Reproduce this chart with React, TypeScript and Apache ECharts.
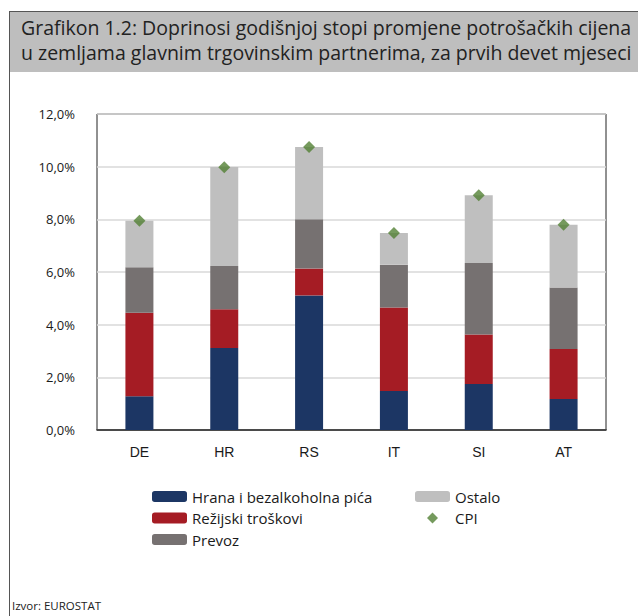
import React, { useEffect, useRef } from "react";
import * as echarts from "echarts";

const categories = ["DE", "HR", "RS", "IT", "SI", "AT"];
const food = [1.28, 3.11, 5.11, 1.48, 1.75, 1.18];
const utilities = [3.17, 1.48, 1.02, 3.17, 1.88, 1.90];
const transport = [1.73, 1.64, 1.87, 1.63, 2.71, 2.33];
const other = [1.77, 3.76, 2.75, 1.20, 2.57, 2.38];
const cpi = [7.95, 9.98, 10.75, 7.48, 8.91, 7.79];
const yTicks = [0, 2, 4, 6, 8, 10, 12];

const titleLines = [
  "Grafikon 1.2: Doprinosi godišnjoj stopi promjene potrošačkih cijena",
  "u zemljama glavnim trgovinskim partnerima, za prvih devet mjeseci",
];
const sourceText = "Izvor: EUROSTAT";

const FONT = "'Open Sans', 'Noto Sans', sans-serif";

export default function App() {
  const ref = useRef<HTMLDivElement>(null);
  useEffect(() => {
    document.body.style.margin = "0";
    const chart = echarts.init(ref.current!, null, { renderer: "svg" });
    const txt = "#1a1a1a";
    chart.setOption({
      animation: false,
      backgroundColor: "#ffffff",
      textStyle: { fontFamily: FONT },
      grid: {
        left: 97,
        top: 114,
        right: 32,
        bottom: 186,
        show: true,
        borderColor: "#222",
        borderWidth: 1,
        containLabel: false,
      },
      xAxis: {
        type: "category",
        data: categories,
        axisTick: { show: false },
        axisLine: { lineStyle: { color: "#222", width: 1.5 } },
        axisLabel: { color: txt, fontSize: 14, margin: 15, fontFamily: "'Liberation Sans', Arial, sans-serif" },
      },
      yAxis: {
        type: "value",
        min: yTicks[0],
        max: yTicks[yTicks.length - 1],
        interval: 2,
        axisLine: { show: false },
        axisTick: { show: false },
        splitLine: { lineStyle: { color: "#d9d9d9", width: 1.5 } },
        axisLabel: {
          color: txt,
          fontSize: 13,
          margin: 22,
          formatter: (v: number) => v.toFixed(1).replace(".", ",") + "%",
        },
      },
      legend: [
        {
          orient: "vertical",
          left: 152,
          top: 488,
          padding: 0,
          itemWidth: 35,
          itemHeight: 11,
          itemGap: 4.5,
          textStyle: { color: txt, fontSize: 15, lineHeight: 17, fontFamily: FONT },
          data: ["Hrana i bezalkoholna pića", "Režijski troškovi", "Prevoz"],
        },
        {
          orient: "vertical",
          left: 415,
          top: 488,
          padding: 0,
          itemWidth: 35,
          itemHeight: 11,
          itemGap: 4.5,
          symbolKeepAspect: true,
          textStyle: { color: txt, fontSize: 15, lineHeight: 17, fontFamily: FONT },
          data: ["Ostalo", { name: "CPI", icon: "path://M0,-1L1,0L0,1L-1,0Z" }],
        },
      ],
      series: [
        { name: "Hrana i bezalkoholna pića", type: "bar", stack: "a", barWidth: 28, data: food, itemStyle: { color: "#1c3664" } },
        { name: "Režijski troškovi", type: "bar", stack: "a", barWidth: 28, data: utilities, itemStyle: { color: "#a51c24" } },
        { name: "Prevoz", type: "bar", stack: "a", barWidth: 28, data: transport, itemStyle: { color: "#767171" } },
        { name: "Ostalo", type: "bar", stack: "a", barWidth: 28, data: other, itemStyle: { color: "#bfbfbf" } },
        {
          name: "CPI",
          type: "scatter",
          symbol: "diamond",
          symbolSize: 12,
          data: cpi,
          itemStyle: { color: "#538135" },
          z: 5,
        },
      ],
      graphic: [
        { type: "rect", shape: { x: 9, y: 11, width: 640, height: 61 }, style: { fill: "#bebebe" }, z: -1 },
        { type: "line", shape: { x1: 9, y1: 11.5, x2: 638, y2: 11.5 }, style: { stroke: "#555", lineWidth: 1 } },
        { type: "line", shape: { x1: 9.5, y1: 11, x2: 9.5, y2: 616 }, style: { stroke: "#555", lineWidth: 1 } },
        {
          type: "text",
          x: 21,
          y: 27,
          style: { text: titleLines[0], fill: "#222", fontSize: 19.5, fontFamily: FONT, verticalAlign: "middle" },
        },
        {
          type: "text",
          x: 21,
          y: 52,
          style: { text: titleLines[1], fill: "#222", fontSize: 19.5, fontFamily: FONT, verticalAlign: "middle" },
        },
        {
          type: "text",
          x: 12,
          y: 605,
          style: { text: sourceText, fill: "#222", fontSize: 11.5, fontFamily: FONT, verticalAlign: "middle" },
        },
      ],
    });
    return () => chart.dispose();
  }, []);
  return <div ref={ref} style={{ width: 638, height: 616 }} />;
}
